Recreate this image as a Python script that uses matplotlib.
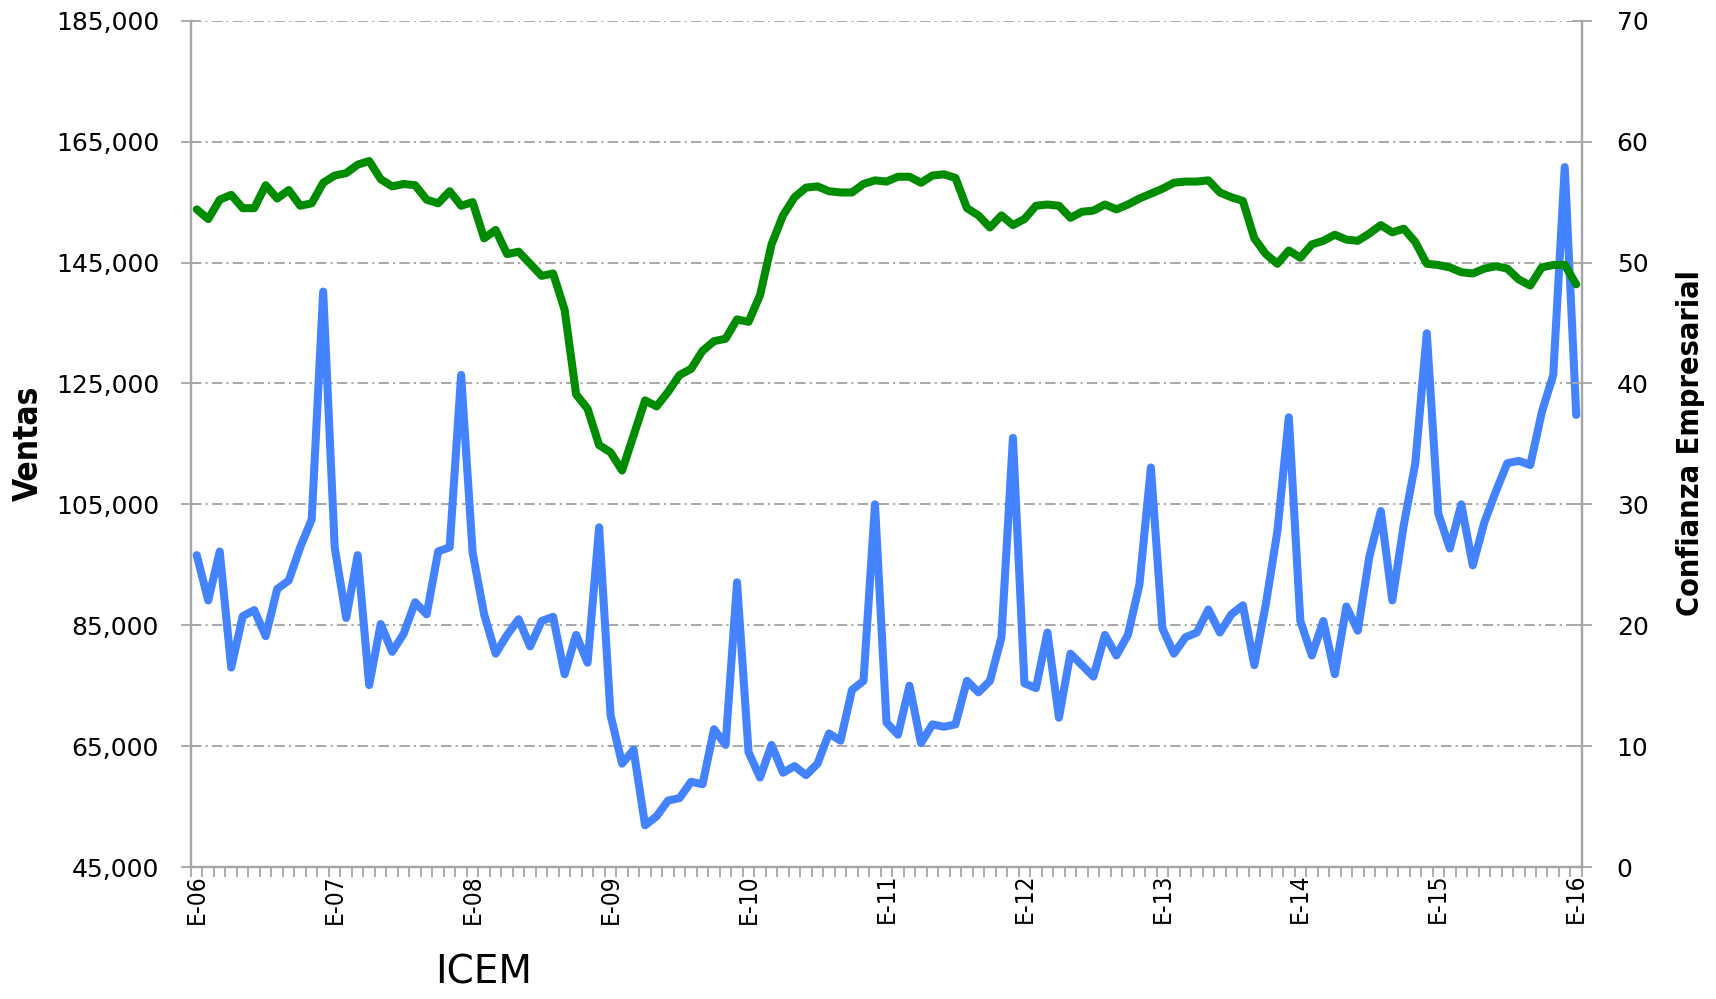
import matplotlib
matplotlib.use('Agg')
import matplotlib.pyplot as plt
import numpy as np
from matplotlib import font_manager
from matplotlib.ticker import FuncFormatter, FixedLocator

# monthly data, Jan 2006 .. Jan 2016
ventas = [96600, 89100, 97200, 78000, 86500, 87500, 83200, 91000, 92400, 97900, 102500, 140200,
          97900, 86200, 96600, 75100, 85200, 80600, 83600, 88800, 86800, 97200, 97900, 126400,
          97000, 86800, 80300, 83400, 86000, 81500, 85700, 86400, 76900, 83400, 78800, 101200,
          70100, 62100, 64400, 51900, 53400, 56000, 56400, 59100, 58700, 67800, 65200, 92100,
          64000, 59800, 65200, 60600, 61700, 60200, 62100, 67100, 65900, 74300, 75800, 105000,
          68900, 66900, 75000, 65500, 68600, 68200, 68600, 75800, 73900, 75800, 83000, 116000,
          75400, 74600, 83800, 69700, 80300, 78400, 76500, 83400, 80000, 83400, 91700, 111100,
          84500, 80300, 83000, 83800, 87600, 83800, 86800, 88300, 78400, 88500, 100500, 119400,
          85700, 80000, 85700, 76900, 88100, 84100, 96300, 103900, 89100, 101600, 111800, 133300,
          103500, 97700, 105000, 94900, 102000, 107100, 111800, 112200, 111500, 120200, 126400, 160800,
          119800]

confianza = [54.4, 53.6, 55.2, 55.6, 54.5, 54.5, 56.4, 55.3, 56.0, 54.7, 54.9, 56.6,
             57.2, 57.4, 58.1, 58.4, 56.9, 56.3, 56.5, 56.4, 55.2, 54.9, 55.9, 54.7,
             55.0, 52.0, 52.7, 50.7, 50.9, 49.9, 48.9, 49.1, 46.1, 39.1, 37.9, 34.9,
             34.3, 32.8, 35.7, 38.6, 38.1, 39.3, 40.7, 41.2, 42.7, 43.5, 43.7, 45.3,
             45.1, 47.3, 51.5, 53.9, 55.4, 56.2, 56.3, 55.9, 55.8, 55.8, 56.5, 56.8,
             56.7, 57.1, 57.1, 56.6, 57.2, 57.3, 57.0, 54.5, 53.9, 52.9, 53.9, 53.1,
             53.6, 54.7, 54.8, 54.7, 53.7, 54.2, 54.3, 54.8, 54.4, 54.8, 55.3, 55.7,
             56.1, 56.6, 56.7, 56.7, 56.8, 55.8, 55.4, 55.1, 52.0, 50.7, 49.9, 51.0,
             50.4, 51.5, 51.8, 52.3, 51.9, 51.8, 52.4, 53.1, 52.5, 52.8, 51.7, 49.9,
             49.8, 49.6, 49.2, 49.1, 49.5, 49.7, 49.5, 48.6, 48.1, 49.6, 49.8, 49.8,
             48.2]

year_labels = ['E-06', 'E-07', 'E-08', 'E-09', 'E-10', 'E-11', 'E-12', 'E-13', 'E-14', 'E-15', 'E-16']
left_ticks = [45000, 65000, 85000, 105000, 125000, 145000, 165000, 185000]
right_ticks = [0, 10, 20, 30, 40, 50, 60, 70]

# use DejaVu Sans Condensed for the Excel-like labels when it is there
has_cond = any(f.name == 'DejaVu Sans' and f.stretch == 'condensed'
               for f in font_manager.fontManager.ttflist)
stretch = 'condensed' if has_cond else 'normal'
k = 1.0 if has_cond else 0.82

plt.rcParams['lines.scale_dashes'] = False

x = np.arange(len(ventas))
grey = '#A6A6A6'

fig = plt.figure(figsize=(17.16, 9.99), dpi=100)
ax = fig.add_axes([0.1113, 0.1321, 0.8106, 0.8471])
ax2 = ax.twinx()

ax.plot(x, ventas, color='#4383FF', lw=5.8, solid_joinstyle='round', solid_capstyle='round', zorder=3)
ax2.plot(x, confianza, color='#008C00', lw=5.8, solid_joinstyle='round', solid_capstyle='round', zorder=3)

ax.set_xlim(-0.5, len(ventas) - 0.5)
ax.set_ylim(45000, 185000)
ax2.set_ylim(0, 70)

# gridlines
ax.yaxis.set_major_locator(FixedLocator(left_ticks))
ax.grid(axis='y', color='#999999', lw=1.2, linestyle=(0, (7.5, 3.0, 1.5, 3.0)))
ax.grid(axis='x', visible=False)
ax.set_axisbelow(True)

ax.yaxis.set_major_formatter(FuncFormatter(lambda v, p: '{:,.0f}'.format(v)))
ax2.yaxis.set_major_locator(FixedLocator(right_ticks))

# x axis: a tick every month, a label every january
ax.set_xticks(np.arange(0, len(ventas), 12))
ax.set_xticklabels(year_labels, rotation=90, fontsize=17.5 * k, fontstretch=stretch)
ax.set_xticks(np.arange(-0.5, len(ventas)), minor=True)
ax.tick_params(axis='x', which='major', length=0, pad=5)
ax.tick_params(axis='x', which='minor', length=7, width=1.3, color=grey, direction='out')

ax.tick_params(axis='y', which='major', length=14, width=1.3, color=grey, direction='inout',
               labelsize=18, pad=16)
ax2.tick_params(axis='y', which='major', length=14, width=1.3, color=grey, direction='inout',
                labelsize=18, pad=18)

for a in (ax, ax2):
    a.spines['top'].set_visible(False)
    for s in ('left', 'right', 'bottom'):
        a.spines[s].set_color(grey)
        a.spines[s].set_linewidth(1.6)

fig.text(0.0163, 0.5566, 'Ventas', rotation=90, ha='center', va='center',
         fontsize=24 * k, fontweight='bold', fontstretch=stretch)
fig.text(0.9854, 0.5566, 'Confianza Empresarial', rotation=90, ha='center', va='center',
         fontsize=22 * k, fontweight='bold', fontstretch=stretch)
fig.text(0.282, 0.008, 'ICEM', ha='center', va='bottom', fontsize=28)

fig.savefig('out.png', dpi=100)
plt.close()
